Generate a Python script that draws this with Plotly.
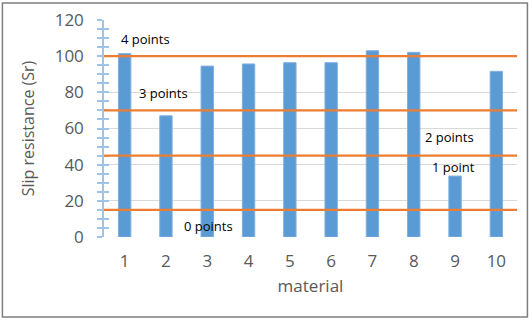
import plotly.graph_objects as go

materials = ["1", "2", "3", "4", "5", "6", "7", "8", "9", "10"]
slip_resistance = [101.4, 67, 94.5, 95.7, 96.4, 96.4, 103, 102.1, 33.7, 91.6]
thresholds = [100, 70, 45, 15]
point_labels = ["4 points", "3 points", "2 points", "1 point", "0 points"]
label_x = [1.51, 1.95, 8.86, 8.96, 3.04]
label_y = [109.5, 79.6, 55.3, 38.7, 6]

fig = go.Figure()
fig.add_trace(go.Bar(
    x=materials, y=slip_resistance, width=0.3,
    marker=dict(color="#5B9BD5", line=dict(color="#7FB0E0", width=1)),
    showlegend=False,
))

for t in thresholds:
    fig.add_shape(type="line", xref="paper", yref="y", x0=0, x1=1, y0=t, y1=t,
                  line=dict(color="#ED7D31", width=2.2), layer="above")

for txt, lx, ly in zip(point_labels, label_x, label_y):
    fig.add_annotation(x=lx - 1, y=ly, xref="x", yref="y", text=txt, showarrow=False,
                       font=dict(size=13, color="#000000", family="Open Sans"))

# outer border
fig.add_shape(type="rect", xref="paper", yref="paper",
              x0=(3 - 104.4) / 412.2, x1=(527 - 104.4) / 412.2,
              y0=(237 - 317) / 217, y1=(237 - 3) / 217,
              line=dict(color="#7F7F7F", width=1.5), fillcolor="rgba(0,0,0,0)")

fig.update_layout(
    width=532, height=321,
    margin=dict(l=104.4, r=15.4, t=20, b=84),
    paper_bgcolor="white", plot_bgcolor="white",
    font=dict(family="Open Sans", color="#595959"),
    bargap=0.7,
    xaxis=dict(
        type="category", showgrid=False, zeroline=False, showline=False, ticks="",
        automargin=False,
        tickfont=dict(size=17, color="#595959"), ticklabelstandoff=12,
        title=dict(text="material", font=dict(size=17, color="#595959"), standoff=9),
    ),
    yaxis=dict(
        range=[0, 120], dtick=20, showgrid=True, gridcolor="#D9D9D9", gridwidth=1,
        automargin=False,
        zeroline=False, showline=True, linecolor="#9DC3E6", linewidth=1.5,
        ticks="outside", ticklen=5, tickcolor="#9DC3E6", tickwidth=1.5,
        minor=dict(dtick=5, ticks="outside", ticklen=5, tickcolor="#9DC3E6", tickwidth=1.5, showgrid=False),
        tickfont=dict(size=17, color="#595959"), ticklabelstandoff=10,
        title=dict(text="Slip resistance (Sr)", font=dict(size=16, color="#595959"), standoff=16),
    ),
    yaxis2=dict(
        range=[0, 120], overlaying="y", side="left", showgrid=False, zeroline=False,
        showline=False, showticklabels=False, dtick=20, automargin=False,
        ticks="inside", ticklen=5, tickcolor="#9DC3E6", tickwidth=1.5,
        minor=dict(dtick=5, ticks="inside", ticklen=5, tickcolor="#9DC3E6", tickwidth=1.5),
    ),
)
fig.add_trace(go.Scatter(x=[None], y=[None], yaxis="y2", showlegend=False, hoverinfo="skip"))

fig.write_html("out.html", config={"displayModeBar": False},
               post_script="document.body.style.margin='0';")
